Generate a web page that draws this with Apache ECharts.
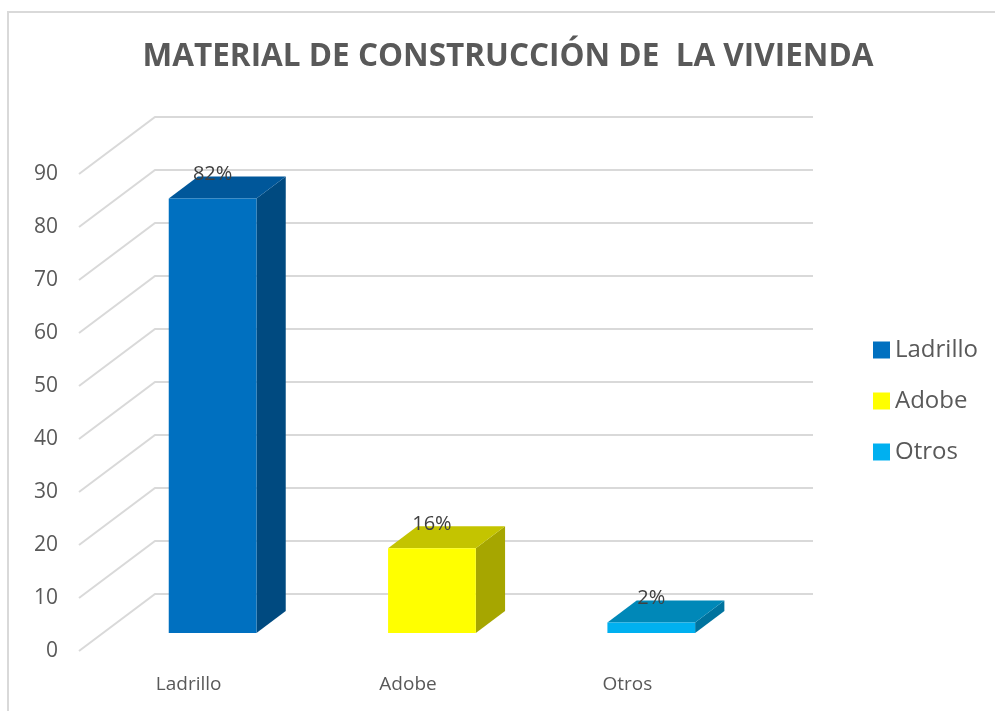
<!DOCTYPE html>
<html>
<head>
<meta charset="utf-8">
<script src="https://cdn.jsdelivr.net/npm/echarts@6/dist/echarts.min.js"></script>
<style>
html,body{margin:0;padding:0;background:#fff;}
#chart{width:995px;height:711px;}
</style>
</head>
<body>
<div id="chart"></div>
<script>
// datos del grafico
var categorias = ['Ladrillo', 'Adobe', 'Otros'];
var valores = [82, 16, 2];
var etiquetas = ['82%', '16%', '2%'];
var yTicks = [0, 10, 20, 30, 40, 50, 60, 70, 80, 90];

// colores: frente, tapa, lado
var colFrente = ['#0070C0', '#FFFF00', '#00B0F0'];
var colTapa = ['#00579A', '#C4C400', '#0088B8'];
var colLado = ['#004A80', '#A6A600', '#00739E'];

// profundidad de la pared 3D
var DX = 76, DY = 57;
var Z1 = 0.315, Z2 = 0.70;

function gridLineItem(params, api){
	var cs = params.coordSys;
	var p = api.coord([0, api.value(1)]);
	var x0 = cs.x, x1 = cs.x + cs.width;
	return {
		type: 'polyline',
		shape: { points: [[x0, p[1]], [x0 + DX, p[1] - DY], [x1 + DX, p[1] - DY]] },
		style: { stroke: '#d9d9d9', lineWidth: 2, fill: null },
		silent: true
	};
}

function barItem(i){
	return function(params, api){
		var idx = api.value(0);
		var p0 = api.coord([idx, 0]);
		var p1 = api.coord([idx, api.value(1)]);
		var band = api.size([1, 0])[0];
		var w = band * 0.4;
		var cx = p0[0] + Z1 * DX;
		var xl = cx - w / 2, xr = cx + w / 2;
		var yb = p0[1] - Z1 * DY, yt = p1[1] - Z1 * DY;
		var ddx = (Z2 - Z1) * DX, ddy = (Z2 - Z1) * DY;
		return {
			type: 'group',
			children: [
				{ type: 'polygon', shape: { points: [[xr, yb], [xr + ddx, yb - ddy], [xr + ddx, yt - ddy], [xr, yt]] },
					style: { fill: colLado[i] } },
				{ type: 'polygon', shape: { points: [[xl, yt], [xr, yt], [xr + ddx, yt - ddy], [xl + ddx, yt - ddy]] },
					style: { fill: colTapa[i] } },
				{ type: 'rect', shape: { x: xl, y: yt, width: w, height: yb - yt },
					style: { fill: colFrente[i] } },
				{ type: 'text', x: cx, y: yt - ddy - 2,
					style: { text: etiquetas[i], fill: '#404040', font: '20px "Open Sans"', align: 'center', verticalAlign: 'middle' } }
			]
		};
	};
}

var series = [{
	type: 'custom',
	name: 'grid',
	silent: true,
	z: 1,
	renderItem: gridLineItem,
	data: yTicks.map(function(v){ return [0, v]; })
}];
for (var i = 0; i < categorias.length; i++) {
	series.push({
		type: 'custom',
		name: categorias[i],
		z: 5,
		itemStyle: { color: colFrente[i] },
		renderItem: barItem(i),
		data: [[i, valores[i]]]
	});
}

var myChart = echarts.init(document.getElementById('chart'));
myChart.setOption({
	animation: false,
	backgroundColor: '#fff',
	title: {
		text: 'MATERIAL DE CONSTRUCCIÓN DE  LA VIVIENDA',
		left: 503,
		textAlign: 'center',
		top: 36,
		textStyle: { fontFamily: 'Open Sans', fontWeight: 'bold', fontSize: 31.5, color: '#595959' }
	},
	legend: {
		data: categorias,
		orient: 'vertical',
		left: 868,
		top: 333,
		icon: 'rect',
		itemWidth: 17,
		itemHeight: 17,
		itemGap: 27,
		textStyle: { fontFamily: 'Open Sans', fontSize: 24, color: '#595959', lineHeight: 24 }
	},
	grid: { left: 79, top: 174, width: 658, height: 477, outerBoundsMode: 'none' },
	xAxis: {
		type: 'category',
		data: categorias,
		axisLine: { show: false },
		axisTick: { show: false },
		axisLabel: { margin: 24, fontFamily: 'Open Sans', fontSize: 19, color: '#595959' }
	},
	yAxis: {
		type: 'value',
		min: 0,
		max: 90,
		interval: 10,
		splitLine: { show: false },
		axisLine: { show: false },
		axisLabel: { margin: 21, fontFamily: 'Open Sans', fontSize: 21, color: '#595959' }
	},
	graphic: [{
		type: 'rect',
		shape: { x: 8, y: 12, width: 1000, height: 720 },
		style: { fill: null, stroke: '#d9d9d9', lineWidth: 2 },
		silent: true
	}],
	series: series
});
</script>
</body>
</html>
